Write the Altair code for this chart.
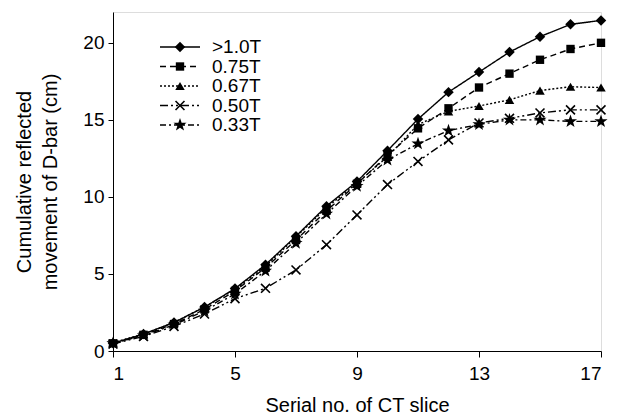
import altair as alt
import pandas as pd

slices = list(range(1, 18))
series = [">1.0T", "0.75T", "0.67T", "0.50T", "0.33T"]

v_10 = [0.5, 1.1, 1.85, 2.85, 4.05, 5.6, 7.45, 9.4, 11.0, 13.0, 15.05, 16.8, 18.1, 19.4, 20.4, 21.2, 21.45]
v_075 = [0.5, 1.05, 1.75, 2.7, 3.9, 5.4, 7.2, 9.1, 10.85, 12.7, 14.45, 15.75, 17.1, 18.0, 18.9, 19.6, 20.0]
v_067 = [0.55, 1.1, 1.85, 2.85, 4.0, 5.5, 7.4, 9.3, 10.9, 12.6, 14.7, 15.55, 15.9, 16.3, 16.9, 17.15, 17.1]
v_050 = [0.45, 0.95, 1.6, 2.4, 3.4, 4.07, 5.26, 6.9, 8.83, 10.8, 12.3, 13.7, 14.8, 15.1, 15.45, 15.65, 15.65]
v_033 = [0.5, 1.0, 1.7, 2.6, 3.7, 5.2, 7.0, 8.9, 10.7, 12.4, 13.45, 14.3, 14.7, 15.0, 15.0, 14.9, 14.9]

x_ticks = [1, 5, 9, 13, 17]
y_ticks = [0, 5, 10, 15, 20]

all_vals = [v_10, v_075, v_067, v_050, v_033]
rows = []
for name, vals in zip(series, all_vals):
    for s, v in zip(slices, vals):
        rows.append({"slice": s, "value": v, "series": name})
df = pd.DataFrame(rows)

STAR = "M0,-1L0.235,-0.324L0.951,-0.309L0.38,0.124L0.588,0.809L0,0.4L-0.588,0.809L-0.38,0.124L-0.951,-0.309L-0.235,-0.324Z"
XMARK = "M-1,-1L1,1M-1,1L1,-1"
DIAMOND = "M0,-1L1,0L0,1L-1,0Z"
dashes = [[1, 0], [6, 4], [2, 2], [8, 3, 2, 3, 2, 3], [6, 3, 2, 3]]
# (shape, size, filled) per series
markers = {
    ">1.0T": (DIAMOND, 110, True),
    "0.75T": ("square", 70, True),
    "0.67T": ("triangle-up", 90, True),
    "0.50T": (XMARK, 80, False),
    "0.33T": (STAR, 190, True),
}

FONT = "Liberation Sans"

x_enc = alt.X("slice:Q", scale=alt.Scale(domain=[1, 17], nice=False, zero=False),
              axis=alt.Axis(values=x_ticks, title="Serial no. of CT slice", grid=False,
                            tickSize=6, labelPadding=7, titlePadding=12, domainColor="black",
                            tickColor="black", labelColor="black", titleColor="black",
                            labelFontSize=19, titleFontSize=20, titleFontWeight="normal",
                            labelFont=FONT, titleFont=FONT))
y_enc = alt.Y("value:Q", scale=alt.Scale(domain=[0, 22], nice=False),
              axis=alt.Axis(values=y_ticks, title=["Cumulative reflected", "movement of D-bar (cm)"],
                            grid=False, tickSize=5, labelPadding=4, titlePadding=22,
                            domainColor="black", tickColor="black", labelColor="black",
                            titleColor="black", labelFontSize=19, titleFontSize=20,
                            titleFontWeight="normal", labelFont=FONT, titleFont=FONT,
                            titleLineHeight=26))

dash_scale = alt.Scale(domain=series, range=dashes)

lines = alt.Chart(df).mark_line(color="black", strokeWidth=1.4).encode(
    x=x_enc, y=y_enc,
    strokeDash=alt.StrokeDash("series:N", scale=dash_scale, legend=None),
    detail="series:N",
)


def point_layer(source, name, x, y):
    shape, size, filled = markers[name]
    mark = alt.Chart(source).transform_filter(alt.datum.series == name).mark_point(
        shape=shape, size=size, filled=filled, color="black", opacity=1,
        strokeWidth=1.6 if not filled else 0.5)
    return mark.encode(x=x, y=y)


data_layer = alt.layer(lines, *[point_layer(df, n, "slice:Q", "value:Q") for n in series])

leg = pd.DataFrame({"series": series})
leg_y = alt.Y("series:N", scale=alt.Scale(type="point", domain=series, range=[35, 113], padding=0), axis=None)

leg_lines = alt.Chart(leg).mark_rule(color="black", strokeWidth=1.4).encode(
    x=alt.value(47), x2=alt.value(87), y=leg_y,
    strokeDash=alt.StrokeDash("series:N", scale=dash_scale, legend=None),
)
leg_text = alt.Chart(leg).mark_text(align="left", baseline="middle", fontSize=19, font=FONT,
                                    color="black").encode(
    x=alt.value(99), y=leg_y, text="series:N",
)
legend_layer = alt.layer(leg_lines, *[point_layer(leg, n, alt.value(67), leg_y) for n in series], leg_text)

chart = alt.layer(data_layer, legend_layer).resolve_scale(
    y="independent"
).properties(
    width=488, height=339,
    autosize=alt.AutoSizeParams(type="none"),
    padding={"left": 105, "top": 4, "right": 15, "bottom": 66},
).configure_view(stroke=None).configure(background="white")

chart.save("out.html", embed_options={"renderer": "svg", "actions": False})
